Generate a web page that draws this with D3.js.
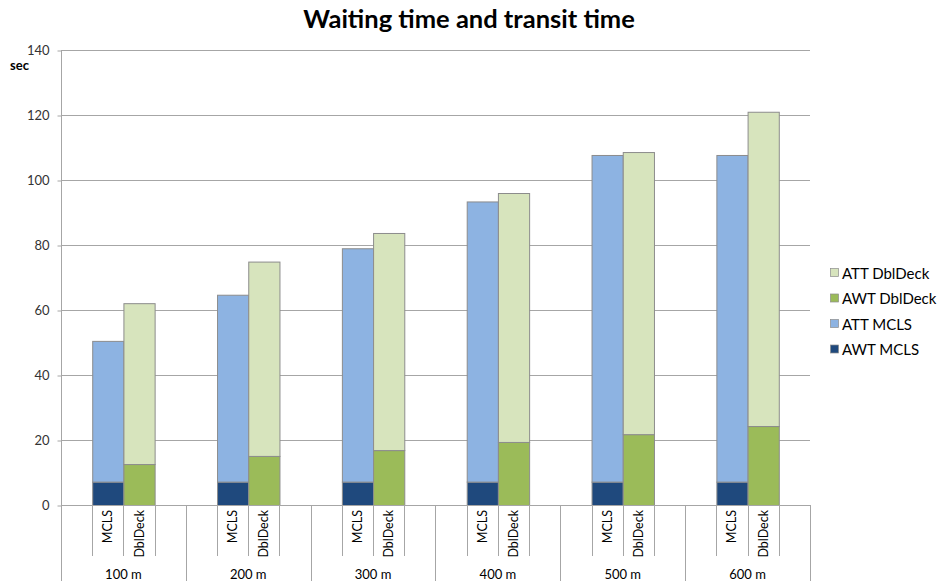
<!DOCTYPE html>
<html><head><meta charset="utf-8">
<script src="https://cdn.jsdelivr.net/npm/d3@7"></script>
<style>
html,body{margin:0;padding:0;background:#fff;}
svg{display:block;font-family:Lato,"Open Sans",sans-serif;}
</style></head>
<body><svg id="c" width="938" height="581"></svg>
<script>
const categories = ["100 m","200 m","300 m","400 m","500 m","600 m"];
const subGroups = ["MCLS","DblDeck"];
const awtMCLS = [7.2, 7.2, 7.2, 7.2, 7.2, 7.2];
const attMCLS = [43.3, 57.5, 71.8, 86.2, 100.5, 100.5];
const awtDbl = [12.6, 15.1, 16.9, 19.4, 21.8, 24.3];
const attDbl = [49.5, 59.8, 66.8, 76.6, 86.8, 96.7];
const yTicks = [0,20,40,60,80,100,120,140];
const legendItems = [
  {name:"ATT DblDeck", color:"#D7E4BD"},
  {name:"AWT DblDeck", color:"#9BBB59"},
  {name:"ATT MCLS", color:"#8DB3E2"},
  {name:"AWT MCLS", color:"#1F497D"}
];
const colors = {awtMCLS:"#1F497D", attMCLS:"#8DB3E2", awtDbl:"#9BBB59", attDbl:"#D7E4BD"};

const svg = d3.select("#c");
const L = 61, R = 810, T = 50, B = 505;
const y = d3.scaleLinear().domain([0,140]).range([B,T]);
const x = d3.scaleBand().domain(categories).range([L,R]).padding(0);
const xs = d3.scaleBand().domain(subGroups).range([0,x.bandwidth()]).paddingInner(0).paddingOuter(1);

// title
svg.append("text").attr("x",469).attr("y",28).attr("text-anchor","middle")
  .attr("font-size",25.5).attr("font-weight","bold").attr("fill","#000")
  .text("Waiting time and transit time");

// gridlines
svg.append("g").selectAll("line").data(yTicks.filter(d=>d>0)).join("line")
  .attr("x1",L).attr("x2",R).attr("y1",d=>y(d)+0.5).attr("y2",d=>y(d)+0.5)
  .attr("stroke","#a6a6a6").attr("stroke-width",1);

// y axis
const yAxis = svg.append("g").attr("transform",`translate(${L+0.5},0)`)
  .call(d3.axisLeft(y).tickValues(yTicks).tickSize(4).tickPadding(8));
yAxis.select(".domain").remove();
yAxis.selectAll(".tick line").attr("stroke","#a6a6a6").attr("transform","translate(0,0.5)");
yAxis.selectAll(".tick text").attr("font-size",13).attr("fill","#333").attr("font-family","Lato,'Open Sans',sans-serif");
svg.append("line").attr("x1",L+0.5).attr("x2",L+0.5).attr("y1",T).attr("y2",581)
  .attr("stroke","#a6a6a6");

svg.append("text").attr("x",10).attr("y",70).attr("font-size",13).attr("font-weight","bold")
  .attr("fill","#000").text("sec");

// bars
const stacks = [];
categories.forEach((c,i)=>{
  stacks.push({cat:c, sub:"MCLS", y0:0, y1:awtMCLS[i], color:colors.awtMCLS});
  stacks.push({cat:c, sub:"MCLS", y0:awtMCLS[i], y1:awtMCLS[i]+attMCLS[i], color:colors.attMCLS});
  stacks.push({cat:c, sub:"DblDeck", y0:0, y1:awtDbl[i], color:colors.awtDbl});
  stacks.push({cat:c, sub:"DblDeck", y0:awtDbl[i], y1:awtDbl[i]+attDbl[i], color:colors.attDbl});
});
svg.append("g").selectAll("rect").data(stacks).join("rect")
  .attr("x",d=>x(d.cat)+xs(d.sub)+0.5)
  .attr("width",xs.bandwidth())
  .attr("y",d=>y(d.y1)+0.5)
  .attr("height",d=>y(d.y0)-y(d.y1))
  .attr("fill",d=>d.color)
  .attr("stroke","#8c8c8c").attr("stroke-width",1);

// baseline
svg.append("line").attr("x1",L).attr("x2",R).attr("y1",B+0.5).attr("y2",B+0.5).attr("stroke","#a6a6a6");

// x axis structure
const gx = svg.append("g");
categories.forEach(c=>{
  const x0 = x(c);
  gx.append("line").attr("x1",Math.round(x0+x.bandwidth())+0.5).attr("x2",Math.round(x0+x.bandwidth())+0.5)
    .attr("y1",B).attr("y2",581).attr("stroke","#a6a6a6");
  const edges = [xs("MCLS"), xs("DblDeck"), xs("DblDeck")+xs.bandwidth()];
  edges.forEach(e=>{
    gx.append("line").attr("x1",Math.round(x0+e)+0.5).attr("x2",Math.round(x0+e)+0.5)
      .attr("y1",B).attr("y2",556).attr("stroke","#a6a6a6");
  });
  subGroups.forEach(s=>{
    const cx = x0 + xs(s) + xs.bandwidth()/2;
    gx.append("text").attr("transform",`translate(${cx+4.5},${510}) rotate(-90)`)
      .attr("text-anchor","end").attr("font-size",12.5).attr("fill","#000").text(s);
  });
  gx.append("text").attr("x",x0+x.bandwidth()/2).attr("y",579).attr("text-anchor","middle")
    .attr("font-size",13).attr("fill","#000").text(c);
});

// legend
const lg = svg.append("g");
legendItems.forEach((d,i)=>{
  const yy = 273 + i*25.5;
  lg.append("rect").attr("x",830.5).attr("y",yy-4.5).attr("width",8).attr("height",8)
    .attr("fill",d.color).attr("stroke","#8c8c8c").attr("stroke-width",0.7);
  lg.append("text").attr("x",842).attr("y",yy+5.5).attr("font-size",15).attr("fill","#000").text(d.name);
});
</script></body></html>
